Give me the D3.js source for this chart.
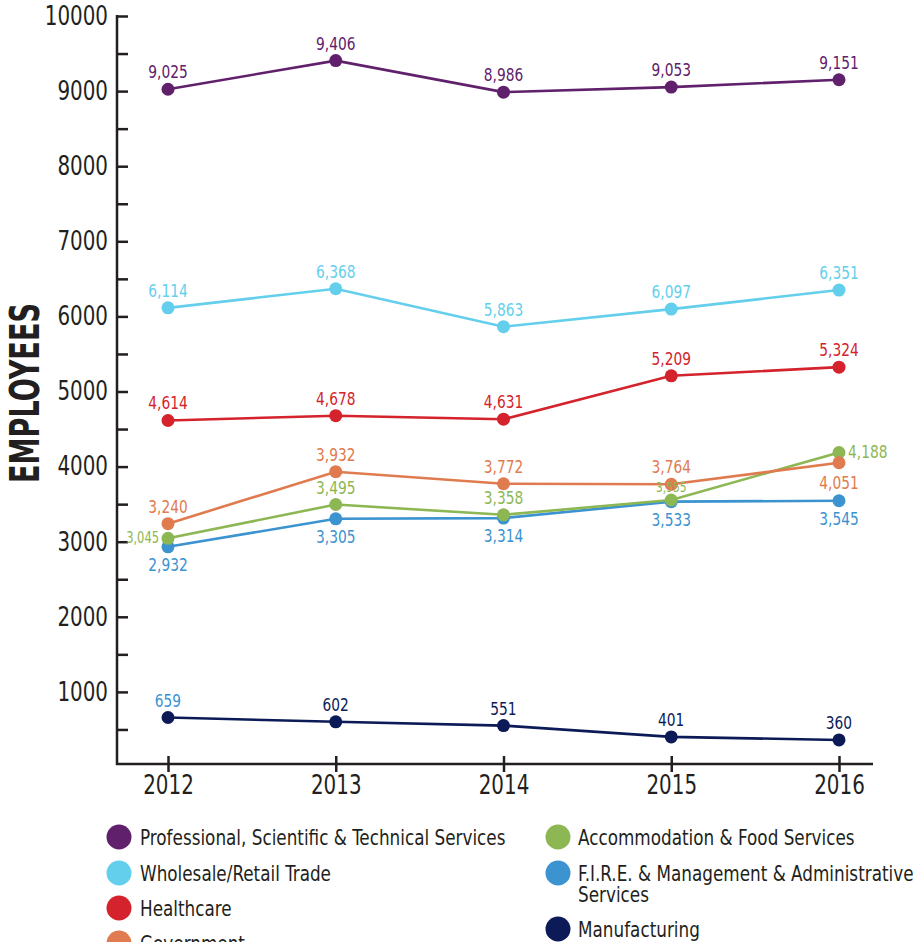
<!DOCTYPE html>
<html>
<head>
<meta charset="utf-8">
<script src="https://cdn.jsdelivr.net/npm/d3@7"></script>
<style>
  body { margin: 0; background: #fff; }
  svg text { font-family: "Liberation Sans Narrow", "DejaVu Sans Condensed", sans-serif; fill: #231f20; }
</style>
</head>
<body>
<svg id="employees" width="913" height="942"></svg>
<script>
// data
const years = [2012, 2013, 2014, 2015, 2016];
const professional = [9025, 9406, 8986, 9053, 9151];
const wholesale = [6114, 6368, 5863, 6097, 6351];
const healthcare = [4614, 4678, 4631, 5209, 5324];
const government = [3240, 3932, 3772, 3764, 4051];
const accommodation = [3045, 3495, 3358, 3555, 4188];
const fire = [2932, 3305, 3314, 3533, 3545];
const manufacturing = [659, 602, 551, 401, 360];
const yMajorTicks = [1000, 2000, 3000, 4000, 5000, 6000, 7000, 8000, 9000, 10000];
const yMinorTicks = [500, 1500, 2500, 3500, 4500, 5500, 6500, 7500, 8500, 9500];

// series, in drawing order (later ones sit on top)
const series = [
  { name: "F.I.R.E. & Management & Administrative Services", values: fire, color: "#3b93d0",
    place: ["below", "below", "below", "below", "below"] },
  { name: "Accommodation & Food Services", values: accommodation, color: "#8cb753",
    place: ["left", "above", "above", "aboveSmall", "right"] },
  { name: "Government", values: government, color: "#e07b4f",
    place: ["above", "above", "above", "above", "belowFar"] },
  { name: "Healthcare", values: healthcare, color: "#d4232c",
    place: ["above", "above", "above", "above", "above"] },
  { name: "Wholesale/Retail Trade", values: wholesale, color: "#63cfec",
    place: ["above", "above", "above", "above", "above"] },
  { name: "Professional, Scientific & Technical Services", values: professional, color: "#60206b",
    place: ["above", "above", "above", "above", "above"] },
  { name: "Manufacturing", values: manufacturing, color: "#0c1b57",
    place: ["above", "above", "above", "above", "above"] }
];

const legendLeft = ["Professional, Scientific & Technical Services", "Wholesale/Retail Trade", "Healthcare", "Government"];
const legendRight = ["Accommodation & Food Services", "F.I.R.E. & Management & Administrative Services", "Manufacturing"];

const svg = d3.select("svg#employees");
const axisColor = "#231f20";

const x = d3.scalePoint().domain(years).range([168, 839]);
const y = d3.scaleLinear().domain([0, 10000]).range([767, 16]);
const axisY = 764;
const axisX = 117;

// y axis: small inward ticks every 500, labels every 1000
let yAxisG = svg.append("g").attr("transform", `translate(${axisX},0)`)
  .call(d3.axisRight(y).tickValues(yMajorTicks.concat(yMinorTicks)).tickSize(11).tickFormat(""));
yAxisG.select(".domain").remove();
yAxisG.selectAll(".tick line").attr("stroke", axisColor).attr("stroke-width", 2.5);

let yLabelG = svg.append("g").attr("transform", `translate(${axisX},0)`)
  .call(d3.axisLeft(y).tickValues(yMajorTicks).tickSize(0).tickPadding(9).tickFormat(d3.format("d")));
yLabelG.select(".domain").remove();
yLabelG.selectAll("text").style("font-size", "26px").attr("fill", axisColor).attr("font-family", null);

svg.append("line")
  .attr("x1", axisX).attr("x2", axisX)
  .attr("y1", y(10000) - 1).attr("y2", axisY + 1)
  .attr("stroke", axisColor).attr("stroke-width", 2.5);

// x axis
let xAxisG = svg.append("g").attr("transform", `translate(0,${axisY})`)
  .call(d3.axisBottom(x).tickSize(8).tickFormat(d3.format("d")));
xAxisG.select(".domain").remove();
xAxisG.selectAll(".tick line").attr("y1", -8).attr("y2", 8).attr("stroke", axisColor).attr("stroke-width", 2.5);
xAxisG.selectAll(".tick text").attr("y", 30).attr("dy", 0)
  .style("font-size", "26px").attr("fill", axisColor).attr("font-family", null);

svg.append("line")
  .attr("x1", axisX - 1).attr("x2", 873)
  .attr("y1", axisY).attr("y2", axisY)
  .attr("stroke", axisColor).attr("stroke-width", 2.5);

// y axis title
svg.append("text")
  .text("EMPLOYEES")
  .attr("class", "fixed")
  .attr("transform", `translate(39,393) rotate(-90)`)
  .attr("text-anchor", "middle")
  .attr("textLength", 180)
  .attr("lengthAdjust", "spacingAndGlyphs")
  .style("font-size", "40px")
  .style("font-weight", "bold");

// lines, dots, labels
const line = d3.line().x((d, i) => x(years[i])).y(d => y(d));
const fmt = d3.format(",");

const labelPos = {
  above:      { dx: 0,  dy: -11, anchor: "middle", size: 18 },
  aboveSmall: { dx: 0,  dy: -8,  anchor: "middle", size: 14 },
  below:      { dx: 0,  dy: 24,  anchor: "middle", size: 18 },
  belowFar:   { dx: 0,  dy: 26,  anchor: "middle", size: 18 },
  left:       { dx: -9, dy: 5,   anchor: "end",    size: 15 },
  right:      { dx: 9,  dy: 6,   anchor: "start",  size: 18 }
};

series.forEach(s => {
  let g = svg.append("g");
  g.append("path")
    .attr("d", line(s.values))
    .attr("fill", "none")
    .attr("stroke", s.color)
    .attr("stroke-width", 2.6);
  g.selectAll("circle").data(s.values).enter()
    .append("circle")
    .attr("cx", (d, i) => x(years[i]))
    .attr("cy", d => y(d))
    .attr("r", 6.5)
    .attr("fill", s.color);
});

// labels on top of all marks
series.forEach(s => {
  svg.append("g").selectAll("text").data(s.values).enter()
    .append("text")
    .text(d => fmt(d))
    .attr("x", (d, i) => x(years[i]) + labelPos[s.place[i]].dx)
    .attr("y", (d, i) => y(d) + labelPos[s.place[i]].dy)
    .attr("text-anchor", (d, i) => labelPos[s.place[i]].anchor)
    .style("font-size", (d, i) => labelPos[s.place[i]].size + "px")
    // the 2012 manufacturing label is printed in the F.I.R.E. blue in the original
    .style("fill", (d, i) => (s.values === manufacturing && i === 0) ? "#3b93d0" : s.color);
});

// legend
const colorOf = name => series.find(s => s.name === name).color;
const legendCols = [
  { items: legendLeft, cx: 119, tx: 140, rows: [837, 873, 908, 943] },
  { items: legendRight, cx: 558, tx: 578, rows: [837, 873, 929] }
];
legendCols.forEach(col => {
  col.items.forEach((name, i) => {
    let cy = col.rows[i];
    svg.append("circle").attr("cx", col.cx).attr("cy", cy).attr("r", 12.5).style("fill", colorOf(name));
    let t = svg.append("text").attr("x", col.tx).attr("y", cy + 8).style("font-size", "22px");
    if (name.startsWith("F.I.R.E.")) {
      t.append("tspan").attr("x", col.tx).text("F.I.R.E. & Management & Administrative");
      t.append("tspan").attr("x", col.tx).attr("dy", 21).text("Services");
    } else {
      t.text(name);
    }
  });
});

// the original uses a condensed face; squeeze the fallback font to match its widths
const squeeze = 0.85;
svg.selectAll("text:not(.fixed)").each(function () {
  let parts = this.querySelectorAll("tspan");
  let targets = parts.length ? Array.from(parts) : [this];
  targets.forEach(el => {
    let w = el.getComputedTextLength();
    el.setAttribute("textLength", w * squeeze);
    el.setAttribute("lengthAdjust", "spacingAndGlyphs");
  });
});
</script>
</body>
</html>
